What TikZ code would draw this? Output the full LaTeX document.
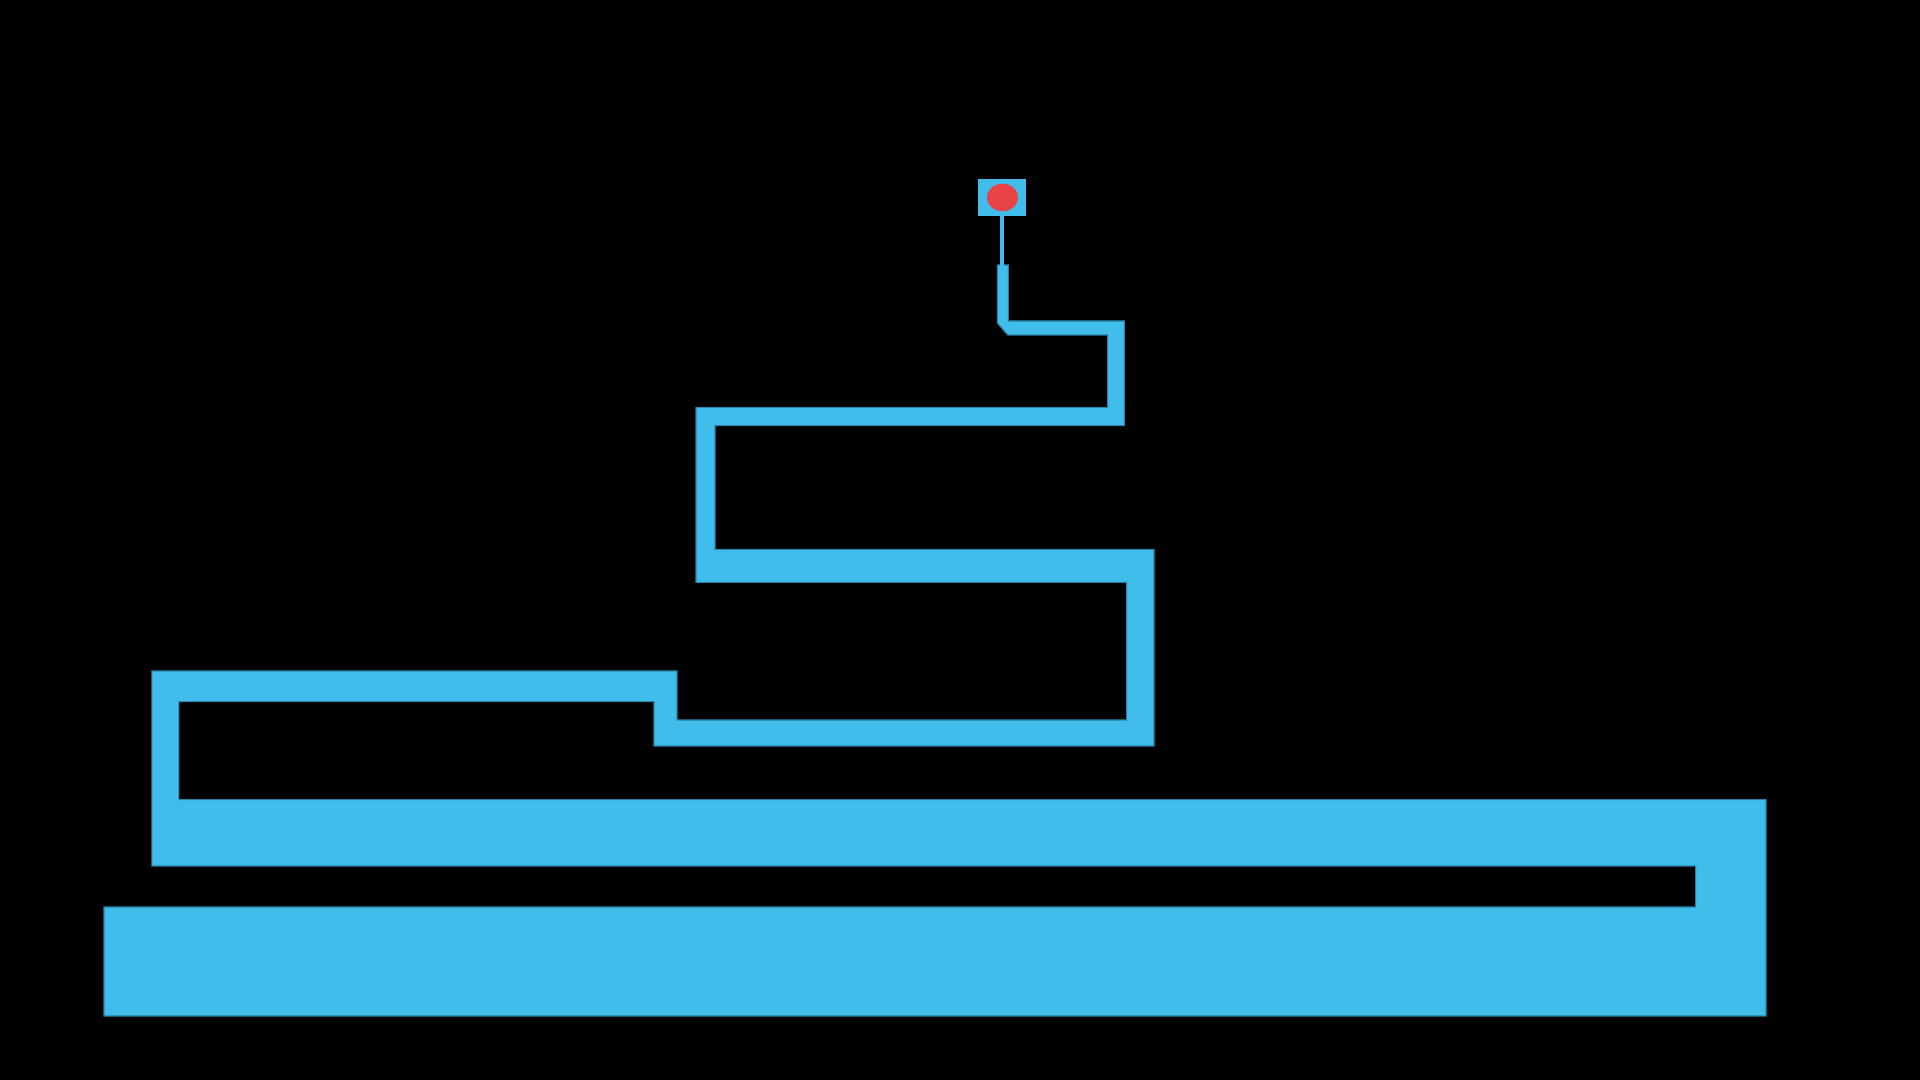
\documentclass[tikz,border=0pt]{standalone}
\definecolor{traceblue}{RGB}{64, 189, 235}
\definecolor{edgeblue}{RGB}{40, 130, 170}
\definecolor{dotred}{RGB}{232, 68, 72}
\usepackage{tikz}
\begin{document}
\begin{tikzpicture}[x=0.01cm, y=-0.01cm]
  % background
  \fill[black] (0, 0) rectangle (1920, 1080);
  \useasboundingbox (0, 0) rectangle (1920, 1080);

  % main trace, one filled outline
  \fill[traceblue, draw=edgeblue, line width=0.3pt]
    (997.3, 265) -- (1008.3, 265) -- (1008.3, 321) -- (1124.3, 321)
    -- (1124.3, 425.7) -- (715, 425.7) -- (715, 549.3) -- (1154, 549.3)
    -- (1154, 746) -- (654, 746) -- (654, 701.6) -- (178.8, 701.6)
    -- (178.8, 799.6) -- (1766, 799.6) -- (1766, 1016) -- (104, 1016)
    -- (104, 907) -- (1695.7, 907) -- (1695.7, 866) -- (151.8, 866)
    -- (151.8, 671) -- (677, 671) -- (677, 720) -- (1126.7, 720)
    -- (1126.7, 582.3) -- (696, 582.3) -- (696, 407.3) -- (1107.7, 407.3)
    -- (1107.7, 335) -- (1007.7, 335) -- (997.3, 323) -- cycle;

  % thin lead up to the pad
  \fill[traceblue] (1000, 214) rectangle (1004.3, 266);

  % pad with red dot
  \fill[traceblue] (978.3, 179) rectangle (1025.7, 215.7);
  \fill[dotred] (1002.5, 197.5) ellipse [x radius=15.5, y radius=13.8];
\end{tikzpicture}
\end{document}
